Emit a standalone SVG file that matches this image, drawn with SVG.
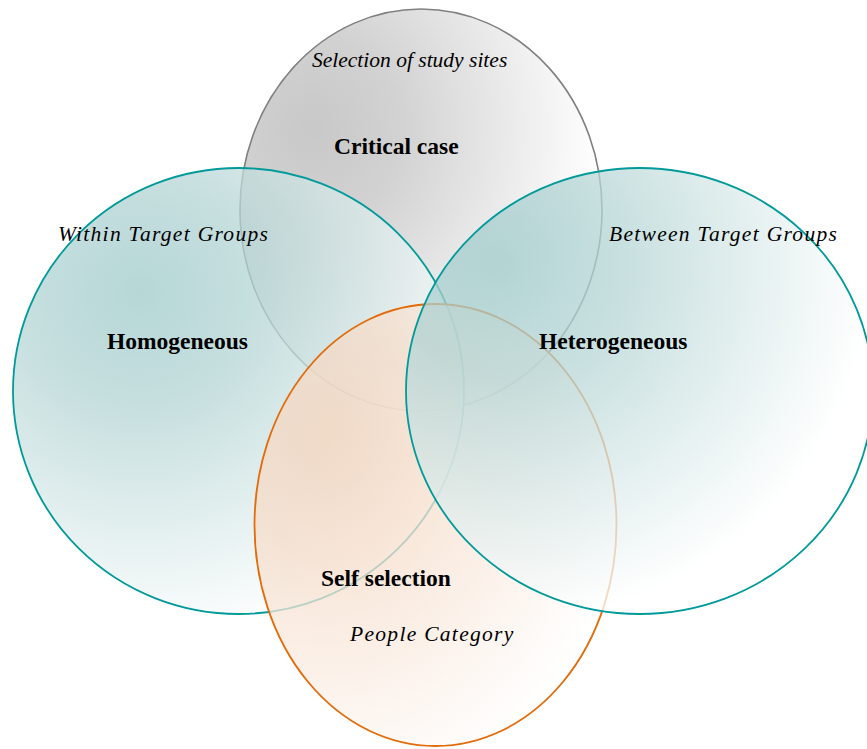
<svg xmlns="http://www.w3.org/2000/svg" width="867" height="749" viewBox="0 0 867 749">
<style>
.lbl{font-family:"Liberation Serif","Times New Roman",serif;fill:#000}
.b{font-weight:bold;font-size:23.5px}
.i{font-style:italic;font-size:21.5px}
.w{letter-spacing:1.3px}
</style>
<defs>
<radialGradient id="gGray" cx="0.2" cy="0.3" r="0.8" fx="0.2" fy="0.3">
<stop offset="0" stop-color="#c2c2c2"/>
<stop offset="0.3" stop-color="#cdcdcd"/>
<stop offset="1" stop-color="#ffffff"/>
</radialGradient>
<radialGradient id="gTealL" cx="0.28" cy="0.28" r="0.8" fx="0.28" fy="0.28">
<stop offset="0" stop-color="#9ecaca"/>
<stop offset="0.3" stop-color="#b2d3d3"/>
<stop offset="1" stop-color="#ffffff"/>
</radialGradient>
<radialGradient id="gTealR" cx="0.2" cy="0.22" r="0.8" fx="0.2" fy="0.22">
<stop offset="0" stop-color="#9ecaca"/>
<stop offset="0.3" stop-color="#b2d3d3"/>
<stop offset="1" stop-color="#ffffff"/>
</radialGradient>
<radialGradient id="gOrange" cx="0.2" cy="0.3" r="0.85" fx="0.2" fy="0.3">
<stop offset="0" stop-color="#f4d2ba"/>
<stop offset="0.35" stop-color="#f6decc"/>
<stop offset="1" stop-color="#ffffff"/>
</radialGradient>
</defs>
<g id="critical-case">
<ellipse cx="421" cy="210" rx="181" ry="201" fill="url(#gGray)" fill-opacity="0.9" stroke="#808080" stroke-width="1.6"/>
</g>
<g id="homogeneous">
<ellipse cx="238.5" cy="391" rx="225.5" ry="223" fill="url(#gTealL)" fill-opacity="0.75" stroke="#009a9a" stroke-width="1.8"/>
</g>
<g id="self-selection">
<ellipse cx="435.5" cy="525" rx="181" ry="221" fill="url(#gOrange)" fill-opacity="0.75" stroke="#e26b0a" stroke-width="1.8"/>
</g>
<g id="heterogeneous">
<ellipse cx="639.5" cy="391" rx="233.5" ry="223" fill="url(#gTealR)" fill-opacity="0.75" stroke="#009a9a" stroke-width="1.8"/>
</g>
<g id="connectors"></g>
<g id="labels">
<text class="lbl i" x="312" y="67">Selection of study sites</text>
<text class="lbl b" x="334" y="154">Critical case</text>
<text class="lbl i w" x="58" y="241">Within Target Groups</text>
<text class="lbl b" x="107" y="349">Homogeneous</text>
<text class="lbl i w" x="609" y="241">Between Target Groups</text>
<text class="lbl b" x="539" y="349">Heterogeneous</text>
<text class="lbl b" x="321" y="586">Self selection</text>
<text class="lbl i w" x="350" y="641">People Category</text>
</g>
</svg>
